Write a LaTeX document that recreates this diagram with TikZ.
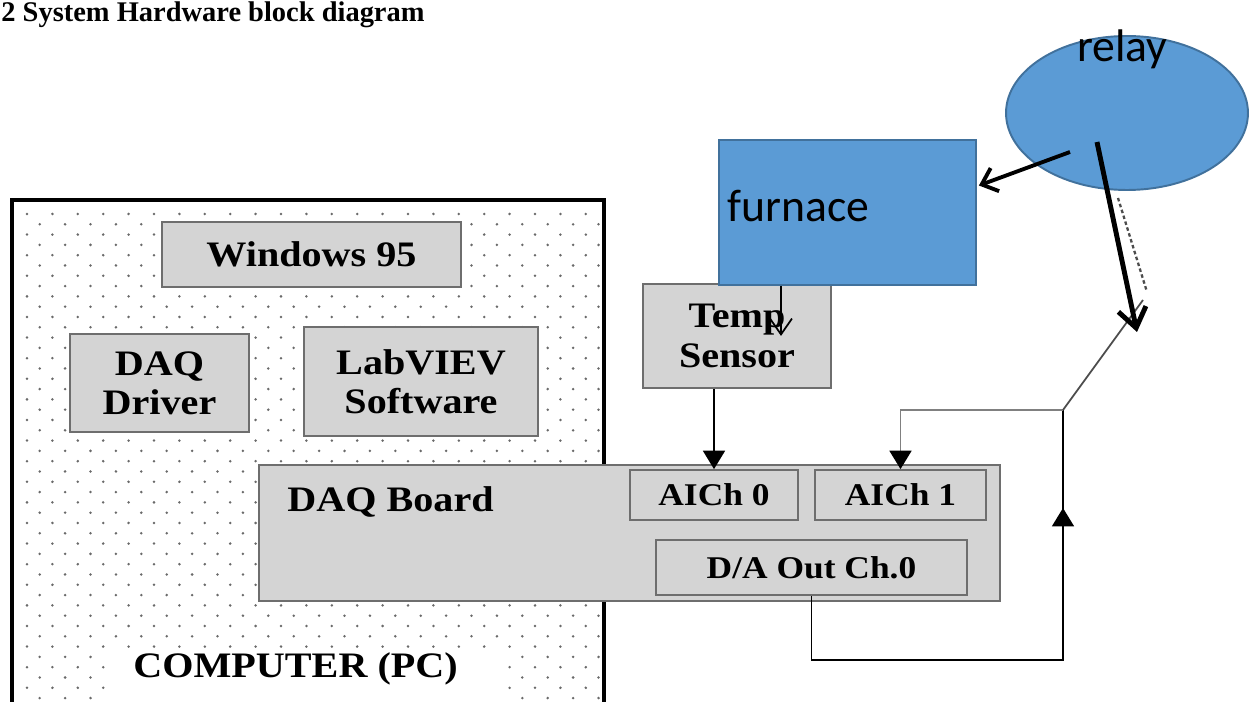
\documentclass[tikz,border=0pt]{standalone}
\usepackage{fontspec}
\setmainfont{Liberation Serif}
\newfontfamily\lbl[FakeStretch=1.12]{Liberation Serif}
\newfontfamily\calfont{Carlito}
\usetikzlibrary{arrows.meta,shapes.geometric}
\definecolor{boxgray}{HTML}{D4D4D4}
\definecolor{boxedge}{HTML}{6E6E6E}
\definecolor{blu}{HTML}{5B9BD5}
\definecolor{bluedge}{HTML}{41719C}
\definecolor{dotgray}{HTML}{6A6A6A}
\begin{document}
\begin{tikzpicture}[x=0.02cm,y=-0.02cm,
  gbox/.style={draw=boxedge, fill=boxgray, line width=1pt, inner sep=0pt, align=center,
    font=\lbl\bfseries\fontsize{20.4}{22.3}\selectfont},
  sbox/.style={gbox, font=\lbl\bfseries\fontsize{18}{20}\selectfont},
  bluebox/.style={draw=bluedge, fill=blu, line width=1.1pt, inner sep=0pt},
  bluetext/.style={font=\calfont\fontsize{26}{30}\selectfont, inner sep=0pt},
  wire/.style={line width=1.1pt},
  tri/.style={-{Triangle[length=10.5pt,width=12.5pt,color=black]}},
  thinbarb/.style={line width=1pt, -{Straight Barb[length=9pt,width=12.5pt]}},
  relaybarb/.style={line width=2.2pt, -{Straight Barb[length=8pt,width=14pt]}},
  bigbarb/.style={line width=2.8pt, -{Straight Barb[length=11pt,width=16pt]}}
]
\useasboundingbox (0,0) rectangle (1252,702);

% title
\node[anchor=base west, inner sep=0pt, font=\bfseries\fontsize{16.2}{18}\selectfont] (title) at (1,22) {2 System Hardware block diagram};

% computer dotted area
\begin{scope}
  \clip (14,202) rectangle (602,702);
  \foreach \r in {0,...,47}{
    \pgfmathsetmacro{\yy}{214+\r*10.3}
    \pgfmathsetmacro{\xo}{27+mod(\r,2)*12.7}
    \foreach \c in {0,...,23}{
      \fill[dotgray] (\xo+\c*25.4,\yy) circle (0.028cm);
    }
  }
\end{scope}
\fill[white] (107,655) rectangle (504,705);
\draw[line width=2.3pt] (12,200) rectangle (604,730);
\node[anchor=base west, inner sep=0pt, font=\lbl\bfseries\fontsize{20.4}{22}\selectfont] (comp) at (133,678) {COMPUTER (PC)};

% software boxes
\node[gbox, minimum width=5.98cm, minimum height=1.30cm] (win) at (311.5,254.5) {Windows 95};
\node[gbox, minimum width=3.58cm, minimum height=1.96cm] (drv) at (159.5,383) {DAQ\\Driver};
\node[gbox, minimum width=4.68cm, minimum height=2.18cm] (lab) at (421,381.5) {LabVIEV\\Software};

% DAQ board
\node[gbox, minimum width=14.82cm, minimum height=2.72cm] (board) at (629.5,533) {};
\node[anchor=base west, inner sep=0pt, font=\lbl\bfseries\fontsize{20.4}{22}\selectfont] (boardlbl) at (287,512) {DAQ Board};
\node[sbox, minimum width=3.36cm, minimum height=1.0cm] (ai0) at (714,495) {AICh 0};
\node[sbox, minimum width=3.42cm, minimum height=1.0cm] (ai1) at (900.5,495) {AICh 1};
\node[sbox, minimum width=6.22cm, minimum height=1.10cm] (dao) at (811.5,567.5) {D/A Out Ch.0};

% temp sensor and furnace
\node[gbox, minimum width=3.76cm, minimum height=2.08cm] (temp) at (737,336) {Temp\\Sensor};
\node[bluebox, minimum width=5.14cm, minimum height=2.90cm] (furn) at (847.5,212.5) {};
\node[bluetext, anchor=base west] (furnlbl) at (727,222) {furnace};

% relay
\node[bluebox, ellipse, minimum width=4.84cm, minimum height=3.08cm] (relay) at (1127,113) {};
\node[bluetext, anchor=base west] (relaylbl) at (1077,62) {relay};

% coordinates
\coordinate (j) at (1063,410);
\coordinate (bot) at (1063,660);
\coordinate (upt) at (1063,508);
\coordinate (sw) at (1143,300);
\coordinate (r1) at (1070,152);
\coordinate (r2) at (1097,142);
\coordinate (contact) at (1137,332);
\coordinate (ds1) at (1118,198);
\coordinate (ds2) at (1147,292);

% wires
\draw[wire] (dao.south) |- (bot) -- (j);
\draw[wire, tri] (bot) -- (upt);
\draw[wire, draw=gray, tri] (j) -| (ai1.north);
\draw[wire, tri] (ai0.north |- temp.south) -- (ai0.north);
\draw[line width=1pt, draw=gray!60!black] (j) -- (sw);
\draw[line width=1.3pt, draw=gray!60!black, dash pattern=on 2pt off 1.5pt] (ds1) -- (ds2);

% furnace -> temp
\draw[thinbarb] (furn.south -| 781,0) -- ([yshift=-1.0cm]furn.south -| 781,0);

% relay arrows
\draw[relaybarb] (r1) -- ([yshift=0.54cm,xshift=0.04cm]furn.east);
\draw[bigbarb] (r2) -- (contact);
\end{tikzpicture}
\end{document}
